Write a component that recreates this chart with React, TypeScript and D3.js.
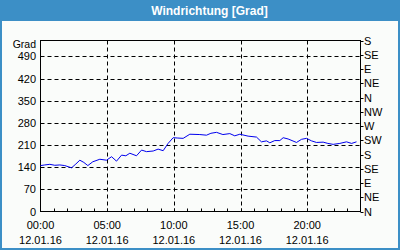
import React from "react";
import * as d3 from "d3";

const hours = [0, 0.32, 0.7, 1.07, 1.45, 1.82, 2.33, 2.65, 2.95, 3.25, 3.55, 3.92, 4.45, 4.95, 5.33, 5.7, 6.08, 6.4, 6.7, 7.2, 7.58, 7.95, 8.45, 8.82, 9.2, 9.57, 9.95, 10.3, 10.7, 11.2, 11.95, 12.45, 12.78, 13.2, 13.68, 14.2, 14.57, 14.95, 15.57, 16.2, 16.57, 16.95, 17.2, 17.57, 17.95, 18.2, 18.57, 19.2, 19.58, 19.95, 20.33, 20.7, 21.2, 21.55, 21.95, 22.45, 22.95, 23.33, 23.7];
const direction = [145, 147, 149, 146, 147, 145, 138, 150, 162, 155, 145, 157, 165, 162, 173, 159, 178, 176, 184, 176, 194, 189, 191, 197, 192, 215, 233, 232, 231, 244, 243, 241, 247, 250, 243, 246, 239, 244, 238, 235, 220, 223, 217, 224, 224, 233, 229, 218, 228, 231, 223, 218, 219, 215, 212, 215, 220, 215, 220];

const leftTicks = [0, 70, 140, 210, 280, 350, 420, 490];
const rightTicks = [0, 45, 90, 135, 180, 225, 270, 315, 360, 405, 450, 495, 540];
const rightLabels = ["N", "NE", "E", "SE", "S", "SW", "W", "NW", "N", "NE", "E", "SE", "S"];
const xMajor = [0, 5, 10, 15, 20];
const xMajorLabels = ["00:00", "05:00", "10:00", "15:00", "20:00"];
const dateLabel = "12.01.16";
const title = "Windrichtung [Grad]";
const unitLabel = "Grad";

export default function App() {
  const W = 400, H = 250;
  const L = 40.5, R = 360.5, T = 40.5, B = 211.5;
  const x = d3.scaleLinear().domain([0, 24]).range([L, R]);
  const y = d3.scaleLinear().domain([0, 540]).range([B, T]);
  const line = d3.line<number>().x((_, i) => x(hours[i])).y((d) => y(d));
  const font = "'Liberation Sans', Arial, sans-serif";
  const minor = d3.range(1, 24);
  return (
    <div style={{ position: "fixed", left: 0, top: 0 }}>
      <svg width={W} height={H} style={{ display: "block" }}>
        <rect x={0} y={0} width={W} height={H} fill="#3c8fc6" />
        <rect x={2} y={21} width={W - 4} height={H - 23} fill="#fafcfa" />
        <text x={209.5} y={15} textAnchor="middle" fill="#fff" fontFamily={font} fontWeight="bold" fontSize={12}>{title}</text>
        {leftTicks.filter((v) => v > 0).map((v) => (
          <line key={"h" + v} x1={L} x2={R} y1={Math.round(y(v)) + 0.5} y2={Math.round(y(v)) + 0.5} stroke="#000" strokeDasharray="4,3" />
        ))}
        {xMajor.filter((v) => v > 0).map((v) => (
          <line key={"v" + v} x1={Math.round(x(v)) + 0.5} x2={Math.round(x(v)) + 0.5} y1={T} y2={B} stroke="#000" strokeDasharray="4,3" />
        ))}
        {minor.map((v) => (
          <line key={"m" + v} x1={Math.round(x(v)) + 0.5} x2={Math.round(x(v)) + 0.5} y1={B - 3} y2={B} stroke="#000" />
        ))}
        <rect x={L} y={T} width={R - L} height={B - T} fill="none" stroke="#000" />
        {rightTicks.map((v) => (
          <line key={"r" + v} x1={R} x2={R + 3} y1={Math.round(y(v)) + 0.5} y2={Math.round(y(v)) + 0.5} stroke="#000" />
        ))}
        <path d={line(direction) || ""} fill="none" stroke="#0000ee" strokeWidth={1} />
        {leftTicks.map((v) => (
          <text key={"lt" + v} x={36} y={y(v) + 4} textAnchor="end" fontFamily={font} fontSize={11} fill="#000">{v}</text>
        ))}
        <text x={36} y={47.5} textAnchor="end" fontFamily={font} fontSize={10.5} fill="#000">{unitLabel}</text>
        {rightTicks.map((v, i) => (
          <text key={"rt" + v} x={364} y={y(v) + 4} fontFamily={font} fontSize={11} fill="#000">{rightLabels[i]}</text>
        ))}
        {xMajor.map((v, i) => (
          <g key={"xl" + v}>
            <text x={x(v)} y={229} textAnchor="middle" fontFamily={font} fontSize={11} fill="#000">{xMajorLabels[i]}</text>
            <text x={x(v)} y={244} textAnchor="middle" fontFamily={font} fontSize={11} fill="#000">{dateLabel}</text>
          </g>
        ))}
      </svg>
    </div>
  );
}
